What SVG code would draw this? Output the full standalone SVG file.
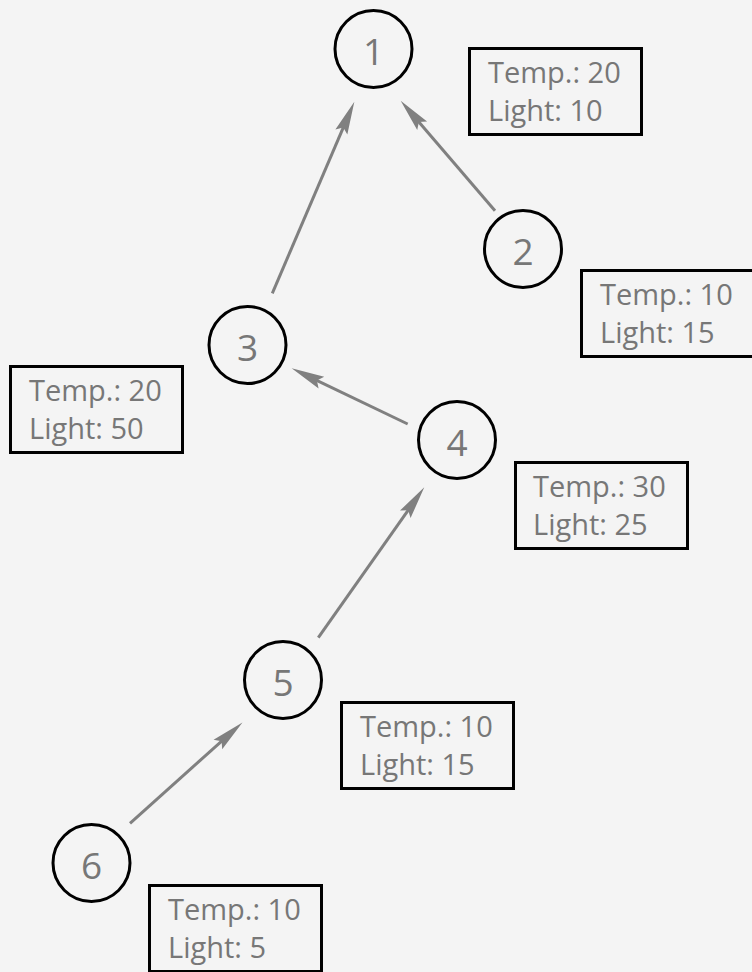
<svg xmlns="http://www.w3.org/2000/svg" width="752" height="972" viewBox="0 0 752 972">
  <defs>
    <style>
      .node circle { fill: none; stroke: #000; stroke-width: 3; }
      .node text { font-family: "Open Sans", "DejaVu Sans", sans-serif; font-size: 37px; fill: #777; text-anchor: middle; }
      .info rect { fill: none; stroke: #000; stroke-width: 3; }
      .info text { font-family: "Open Sans", "DejaVu Sans", sans-serif; font-size: 29px; fill: #777; }
      .edge { stroke: #808080; stroke-width: 3; fill: none; marker-end: url(#arrow); }
    </style>
    <marker id="arrow" markerUnits="userSpaceOnUse" markerWidth="40" markerHeight="20" refX="0" refY="0" orient="auto" overflow="visible" viewBox="-10 -10 40 20">
      <path d="M26,0 L-7,-6.5 L-2,0 L-7,6.5 Z" fill="#808080"/>
    </marker>
  </defs>
  <rect x="0" y="0" width="752" height="972" fill="#f4f4f4"/>

  <g id="connectors">
    <line class="edge" x1="272.3" y1="293.3" x2="344.1" y2="125.6"/>
    <line class="edge" x1="495" y1="210.7" x2="417.6" y2="120.4"/>
    <line class="edge" x1="407.7" y1="424" x2="315.1" y2="379.6"/>
    <line class="edge" x1="318.3" y1="637.7" x2="409.3" y2="508.6"/>
    <line class="edge" x1="130" y1="823.3" x2="223.1" y2="739.8"/>
  </g>

  <g id="node1" class="node"><circle cx="373.5" cy="49" r="38.5"/><text x="373.5" y="64.5">1</text></g>
  <g id="node2" class="node"><circle cx="523" cy="249" r="38.5"/><text x="523" y="264.5">2</text></g>
  <g id="node3" class="node"><circle cx="247.5" cy="345" r="38.5"/><text x="247.5" y="360.5">3</text></g>
  <g id="node4" class="node"><circle cx="457" cy="440" r="38.5"/><text x="457" y="455.5">4</text></g>
  <g id="node5" class="node"><circle cx="283" cy="680" r="38.5"/><text x="283" y="695.5">5</text></g>
  <g id="node6" class="node"><circle cx="91.5" cy="863" r="38.5"/><text x="91.5" y="878.5">6</text></g>

  <g id="info1" class="info"><rect x="469.5" y="48.5" width="172" height="86"/><text x="488" y="83">Temp.: 20</text><text x="488" y="121">Light: 10</text></g>
  <g id="info2" class="info"><rect x="581.5" y="270.5" width="172" height="86"/><text x="600" y="305">Temp.: 10</text><text x="600" y="343">Light: 15</text></g>
  <g id="info3" class="info"><rect x="10.5" y="366.5" width="172" height="86"/><text x="29" y="401">Temp.: 20</text><text x="29" y="439">Light: 50</text></g>
  <g id="info4" class="info"><rect x="515.5" y="462.5" width="172" height="86"/><text x="533" y="497">Temp.: 30</text><text x="533" y="535">Light: 25</text></g>
  <g id="info5" class="info"><rect x="341.5" y="702.5" width="172" height="86"/><text x="360" y="737">Temp.: 10</text><text x="360" y="775">Light: 15</text></g>
  <g id="info6" class="info"><rect x="149.5" y="885.5" width="172" height="86"/><text x="168" y="920">Temp.: 10</text><text x="168" y="958">Light: 5</text></g>
</svg>
